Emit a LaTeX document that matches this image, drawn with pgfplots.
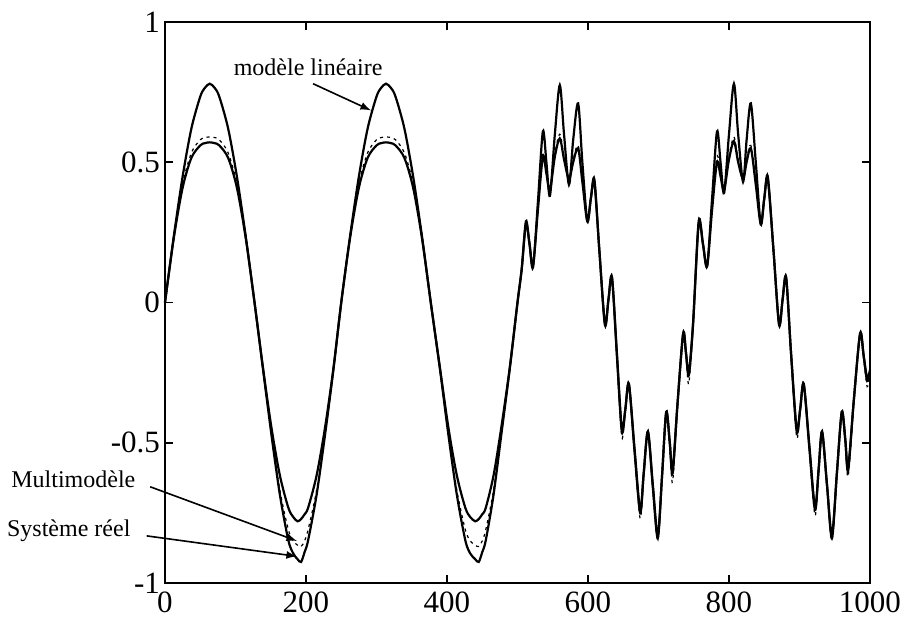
\documentclass[border=0pt]{standalone}
\usepackage{fontspec}
\setmainfont{Liberation Serif}
\usepackage{pgfplots}
\usepackage{pgfplotstable}
\pgfplotsset{compat=1.18}

% columns: x, linear model, real system, multimodel
\pgfplotstableread{
x lin real multi
0 0 0 0
12.5 0.236 0.230 0.238
25 0.449 0.409 0.423
37.5 0.621 0.516 0.534
50 0.734 0.560 0.580
56.5 0.765 0.568 0.588
63.5 0.78 0.571 0.590
70.5 0.765 0.568 0.588
77 0.734 0.560 0.580
89.5 0.621 0.516 0.534
102 0.449 0.409 0.423
114.5 0.236 0.230 0.238
127 0 0 0
139 -0.233 -0.237 -0.240
151 -0.446 -0.472 -0.470
163 -0.617 -0.686 -0.670
175 -0.732 -0.848 -0.810
182 -0.765 -0.895 -0.850
188 -0.78 -0.915 -0.865
193 -0.772 -0.925 -0.870
198 -0.755 -0.890 -0.850
203 -0.732 -0.848 -0.810
215 -0.617 -0.686 -0.670
227 -0.446 -0.472 -0.470
239 -0.233 -0.237 -0.240
250 0 0 0
262.5 0.236 0.230 0.238
275 0.449 0.409 0.423
287.5 0.621 0.516 0.534
300 0.734 0.560 0.580
306.5 0.765 0.568 0.588
313.5 0.78 0.571 0.590
320.5 0.765 0.568 0.588
327 0.734 0.560 0.580
339.5 0.621 0.516 0.534
352 0.449 0.409 0.423
364.5 0.236 0.230 0.238
377 0 0 0
390 -0.233 -0.237 -0.240
402 -0.446 -0.472 -0.470
414 -0.617 -0.686 -0.670
426 -0.732 -0.848 -0.810
433 -0.765 -0.895 -0.850
440 -0.78 -0.915 -0.865
445 -0.772 -0.925 -0.870
450 -0.755 -0.890 -0.850
455 -0.732 -0.848 -0.810
466 -0.617 -0.686 -0.670
477 -0.446 -0.472 -0.470
489 -0.233 -0.237 -0.240
500 0 0 0
506 0.12 0.12 0.12
512 0.29 0.28 0.29
517 0.21 0.21 0.21
522 0.125 0.13 0.13
529 0.36 0.33 0.34
536 0.61 0.52 0.53
541 0.50 0.46 0.47
546 0.38 0.40 0.40
553 0.60 0.52 0.53
560 0.775 0.585 0.60
566 0.60 0.51 0.52
573 0.42 0.44 0.44
579 0.58 0.50 0.51
586 0.71 0.55 0.56
592 0.50 0.43 0.44
599 0.29 0.29 0.29
604 0.37 0.37 0.37
609 0.44 0.43 0.44
616 0.19 0.19 0.19
624 -0.075 -0.08 -0.08
629 0.01 0.01 0.01
634 0.09 0.09 0.09
641 -0.18 -0.19 -0.19
648 -0.45 -0.46 -0.48
653 -0.38 -0.38 -0.38
658 -0.29 -0.29 -0.29
666 -0.52 -0.53 -0.53
674 -0.74 -0.75 -0.77
679 -0.61 -0.61 -0.61
685 -0.46 -0.46 -0.46
692 -0.65 -0.66 -0.66
699 -0.83 -0.84 -0.85
705 -0.62 -0.62 -0.62
711 -0.39 -0.39 -0.39
716 -0.50 -0.50 -0.51
720 -0.60 -0.61 -0.64
727 -0.36 -0.36 -0.37
735 -0.11 -0.11 -0.11
739 -0.18 -0.18 -0.19
743 -0.25 -0.26 -0.29
749 -0.075 -0.08 -0.08
757 0.29 0.28 0.29
763 0.21 0.21 0.21
769 0.13 0.13 0.13
776 0.37 0.33 0.34
783 0.61 0.50 0.52
788 0.50 0.45 0.46
793 0.39 0.40 0.40
800 0.60 0.51 0.52
807 0.78 0.575 0.59
813 0.60 0.50 0.51
820 0.43 0.44 0.44
825 0.58 0.50 0.51
831 0.71 0.55 0.56
838 0.50 0.42 0.43
845 0.28 0.28 0.28
850 0.37 0.37 0.37
855 0.45 0.44 0.45
863 0.19 0.19 0.19
871 -0.075 -0.08 -0.08
876 0.01 0.01 0.01
881 0.09 0.09 0.09
888 -0.18 -0.18 -0.19
896 -0.45 -0.46 -0.48
901 -0.38 -0.38 -0.38
906 -0.29 -0.29 -0.29
914 -0.51 -0.52 -0.52
922 -0.73 -0.74 -0.76
927 -0.60 -0.60 -0.60
932 -0.46 -0.46 -0.46
939 -0.65 -0.65 -0.66
946 -0.83 -0.84 -0.85
953 -0.61 -0.61 -0.61
960 -0.39 -0.39 -0.39
965 -0.49 -0.49 -0.50
969 -0.59 -0.60 -0.62
977 -0.35 -0.35 -0.36
986 -0.11 -0.11 -0.11
991 -0.19 -0.19 -0.20
996 -0.27 -0.28 -0.30
1000 -0.24 -0.25 -0.26
}\curves

\begin{document}
\begin{tikzpicture}
\begin{axis}[
  scale only axis, width=352.5pt, height=280.5pt,
  xmin=0, xmax=1000, ymin=-1, ymax=1,
  xtick={0,200,400,600,800,1000}, xticklabels={0,200,400,600,800,1000},
  ytick={-1,-0.5,0,0.5,1}, yticklabels={-1,-0.5,0,0.5,1},
  tick align=inside, major tick length=4pt,
  axis line style={line width=1pt},
  every tick/.style={black, line width=0.8pt},
  ticklabel style={font=\fontsize{15.5}{17}\selectfont},
  xticklabel style={yshift=-1pt},
  yticklabel style={xshift=1pt},
  clip=false,
]
\addplot[black, line width=1.1pt, smooth, tension=0.5] table[x=x, y=real] {\curves};
\addplot[black, line width=1.1pt, smooth, tension=0.5] table[x=x, y=lin] {\curves};
\addplot[black, line width=0.6pt, smooth, tension=0.5, dash pattern=on 1.5pt off 2pt] table[x=x, y=multi] {\curves};

\node[font=\fontsize{12}{14}\selectfont] at (axis cs:203,0.84) {modèle linéaire};
\draw[-latex, line width=0.8pt] (axis cs:210,0.78) -- (axis cs:292,0.685);

\node[font=\fontsize{12}{14}\selectfont, anchor=east] at (axis cs:-32,-0.63) {Multimodèle};
\draw[-latex, line width=0.8pt] (axis cs:-21,-0.657) -- (axis cs:187,-0.85);

\node[font=\fontsize{12}{14}\selectfont, anchor=east] at (axis cs:-39,-0.815) {Système réel};
\draw[-latex, line width=0.8pt] (axis cs:-26,-0.832) -- (axis cs:187,-0.905);
\end{axis}
\pgfresetboundingbox
\path ([shift={(-82.5pt,-19.5pt)}]current axis.south west) rectangle ([shift={(18.5pt,11pt)}]current axis.north east);
\end{tikzpicture}
\end{document}
